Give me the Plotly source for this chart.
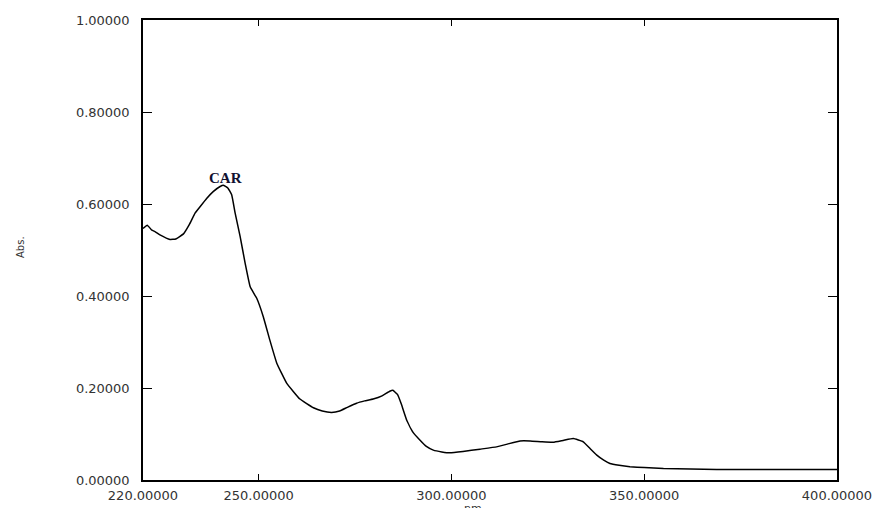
import plotly.graph_objects as go

# Wavelength (nm) and absorbance
wavelength = [220.0, 221.1, 222.3, 223.1, 224.4, 227.0, 228.5, 230.5, 232.0, 233.5,
              234.8, 236.5, 238.2, 240.0, 240.8, 242.0, 243.0, 243.9, 245.2, 246.5,
              247.8, 249.5, 251.2, 252.9, 254.7, 257.3, 260.7, 264.2, 266.5, 268.9,
              271.0, 273.0, 275.4, 277.5, 279.7, 282.0, 284.0, 284.8, 286.0, 287.0,
              288.4, 290.0, 291.8, 293.5, 295.3, 297.5, 299.6, 303.0, 307.4, 311.7,
              314.5, 317.8, 320.4, 323.5, 326.4, 329.0, 331.6, 334.2, 336.0, 337.7,
              339.5, 341.1, 343.5, 346.3, 350.0, 355.0, 362.0, 368.8, 380.0, 390.0,
              400.0]
absorbance = [0.547, 0.554, 0.543, 0.540, 0.533, 0.523, 0.524, 0.535, 0.555, 0.580,
              0.594, 0.612, 0.627, 0.638, 0.641, 0.635, 0.620, 0.580, 0.529, 0.471,
              0.420, 0.395, 0.355, 0.304, 0.254, 0.210, 0.176, 0.157, 0.150, 0.147,
              0.150, 0.158, 0.167, 0.172, 0.176, 0.183, 0.193, 0.195, 0.186, 0.165,
              0.130, 0.104, 0.087, 0.073, 0.065, 0.061, 0.059, 0.062, 0.067, 0.072,
              0.078, 0.085, 0.085, 0.083, 0.082, 0.086, 0.090, 0.083, 0.068, 0.054,
              0.043, 0.036, 0.032, 0.029, 0.027, 0.025, 0.024, 0.023, 0.023, 0.023,
              0.023]

x_ticks = [220, 250, 300, 350, 400]
y_ticks = [0.0, 0.2, 0.4, 0.6, 0.8, 1.0]
peak_label = "CAR"
peak_pos = (241.5, 0.657)

W, H = 882, 508
# target plot box in page pixels
PX0, PX1, PY0, PY1 = 143, 837, 20, 480
L, R, T, B = PX0, W - PX1, PY0, H - PY1
PW, PH = PX1 - PX0, PY1 - PY0


def paper_x(px):
    return (px - PX0) / PW


def paper_y(py):
    return (PY1 - py) / PH


fig = go.Figure()
fig.add_trace(go.Scatter(
    x=wavelength, y=absorbance, mode="lines",
    line=dict(color="black", width=1.5, shape="spline", smoothing=0.3),
    showlegend=False, hoverinfo="skip",
))

tick_font = dict(family="DejaVu Sans", size=13, color="#333333")

fig.update_layout(
    width=W, height=H,
    margin=dict(l=L, r=R, t=T, b=B, pad=0, autoexpand=False),
    paper_bgcolor="white", plot_bgcolor="white",
    xaxis=dict(
        range=[220, 400], tickvals=x_ticks, tickformat=".5f",
        ticks="inside", ticklen=6, tickwidth=1.2, tickcolor="black",
        showline=True, linecolor="black", linewidth=1.5, mirror="ticks",
        showgrid=False, zeroline=False, tickfont=tick_font,
        ticklabelstandoff=3, automargin=False,
    ),
    yaxis=dict(
        range=[0, 1], tickvals=y_ticks, tickformat=".5f",
        ticks="inside", ticklen=9, tickwidth=1.2, tickcolor="black",
        showline=True, linecolor="black", linewidth=1.5, mirror="ticks",
        showgrid=False, zeroline=False, tickfont=tick_font,
        ticklabelstandoff=9, automargin=False,
    ),
    annotations=[
        dict(x=peak_pos[0], y=peak_pos[1], xref="x", yref="y", text="<b>" + peak_label + "</b>",
             showarrow=False, font=dict(family="Liberation Serif", size=15, color="#101030")),
        dict(x=paper_x(20), y=paper_y(247), xref="paper", yref="paper", text="Abs.",
             textangle=-90, showarrow=False, xanchor="center", yanchor="middle",
             font=dict(family="DejaVu Sans", size=10, color="#333333")),
        dict(x=paper_x(473), y=paper_y(500), xref="paper", yref="paper",
             text="nm", showarrow=False, xanchor="center", yanchor="top",
             font=dict(family="DejaVu Sans", size=11, color="#333333")),
    ],
)

fig.write_html(
    "out.html",
    config={"displayModeBar": False},
    post_script="document.body.style.margin='0';document.body.style.overflow='hidden';",
)
